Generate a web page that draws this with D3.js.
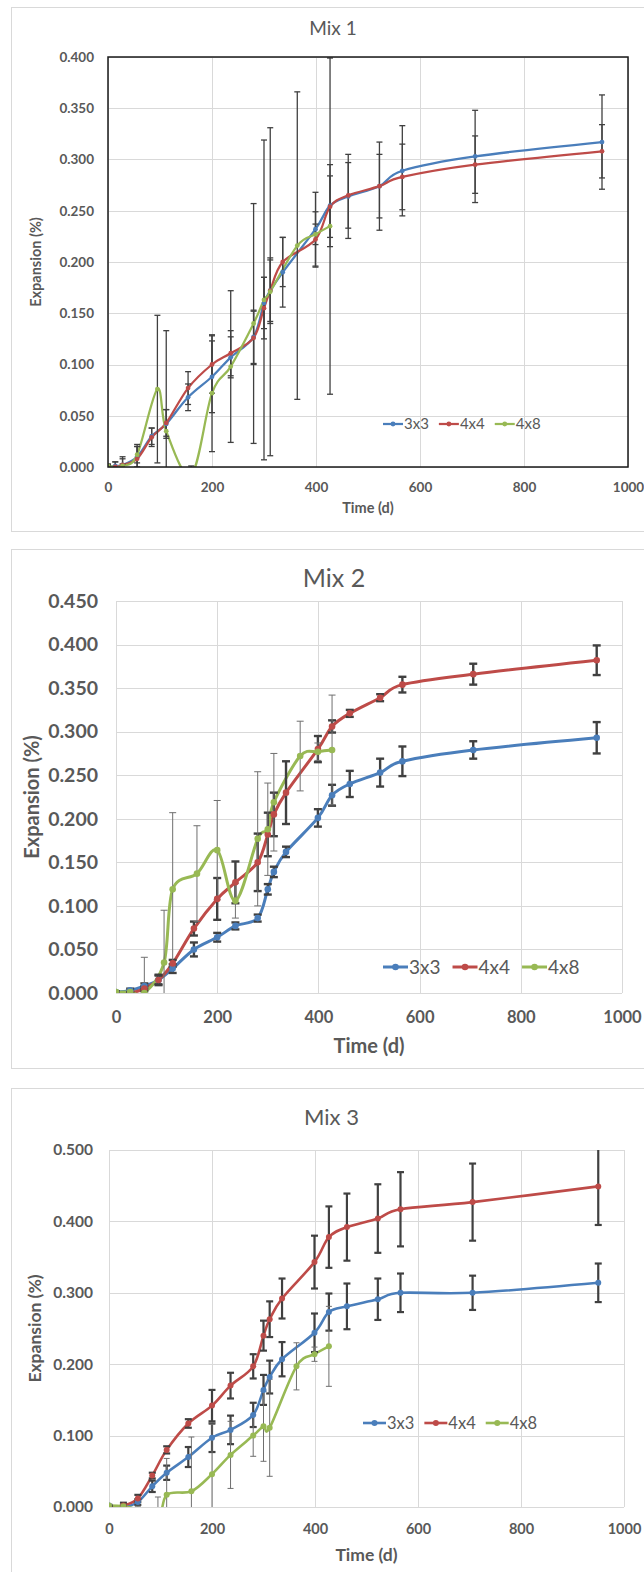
<!DOCTYPE html>
<html>
<head>
<meta charset="utf-8">
<script src="https://cdnjs.cloudflare.com/ajax/libs/d3/7.8.5/d3.min.js"></script>
<style>
  body { margin: 0; background: #fff; }
  svg text { font-family: Lato, "Open Sans", sans-serif; fill: #595959; }
</style>
</head>
<body>
<svg id="chart"></svg>
<script>
// series and axis labels
const seriesNames = ["3x3", "4x4", "4x8"];
const seriesColors = ["#4a7ebb", "#be4b48", "#98b954"];
const xTicks = [0, 200, 400, 600, 800, 1000];

// time points (days)
const mix1Days = [0, 14, 28, 56, 84, 112, 154, 200, 236, 280, 300, 312, 336, 399, 427, 462, 522, 566, 706, 950];
const mixDays = [0, 28, 56, 84, 112, 154, 200, 236, 280, 300, 312, 336, 399, 427, 462, 522, 566, 706, 950];
const days4x8 = [0, 28, 56, 95, 112, 160, 200, 236, 280, 300, 312, 364, 399, 427];

// Mix 1
const mix1Exp3x3 = [0.000, 0.001, 0.002, 0.010, 0.030, 0.042, 0.068, 0.088, 0.107, 0.127, 0.160, 0.172, 0.190, 0.232, 0.255, 0.264, 0.274, 0.289, 0.303, 0.317];
const mix1Err3x3 = [0.002, 0.004, 0.006, 0.010, 0.008, 0.014, 0.013, 0.035, 0.020, 0.026, 0.025, 0.030, 0.034, 0.036, 0.040, 0.041, 0.043, 0.044, 0.045, 0.046];
const mix1Exp4x4 = [0.000, 0.000, 0.002, 0.008, 0.029, 0.043, 0.077, 0.100, 0.111, 0.126, 0.155, 0.172, 0.200, 0.222, 0.254, 0.265, 0.274, 0.283, 0.295, 0.308];
const mix1Err4x4 = [0.002, 0.005, 0.008, 0.014, 0.009, 0.013, 0.016, 0.028, 0.022, 0.026, 0.030, 0.032, 0.024, 0.027, 0.030, 0.032, 0.031, 0.032, 0.028, 0.026];
const mix1Exp4x8 = [0.001, 0.001, 0.012, 0.076, 0.035, -0.008, 0.072, 0.098, 0.140, 0.163, 0.171, 0.216, 0.227, 0.235];
const mix1Err4x8 = [0.002, 0.002, 0.008, 0.072, 0.098, 0.009, 0.057, 0.074, 0.117, 0.156, 0.160, 0.150, 0.010, 0.164];

// Mix 2
const mix2Exp3x3 = [0.001, 0.003, 0.008, 0.015, 0.028, 0.050, 0.064, 0.077, 0.086, 0.119, 0.139, 0.162, 0.201, 0.227, 0.240, 0.253, 0.266, 0.279, 0.293];
const mix2Err3x3 = [0.001, 0.002, 0.003, 0.006, 0.005, 0.008, 0.005, 0.004, 0.004, 0.006, 0.006, 0.006, 0.010, 0.012, 0.015, 0.016, 0.017, 0.010, 0.018];
const mix2Exp4x4 = [0.000, 0.000, 0.005, 0.015, 0.034, 0.074, 0.108, 0.127, 0.150, 0.182, 0.205, 0.230, 0.280, 0.306, 0.321, 0.339, 0.354, 0.366, 0.382];
const mix2Err4x4 = [0.001, 0.001, 0.003, 0.005, 0.004, 0.008, 0.024, 0.024, 0.033, 0.025, 0.025, 0.036, 0.015, 0.007, 0.004, 0.004, 0.009, 0.012, 0.017];
const mix2Exp4x8 = [0.001, 0.001, 0.000, 0.035, 0.119, 0.137, 0.164, 0.106, 0.177, 0.188, 0.219, 0.272, 0.277, 0.279];
const mix2Err4x8 = [0.001, 0.001, 0.041, 0.060, 0.088, 0.055, 0.057, 0.020, 0.077, 0.053, 0.056, 0.040, 0.010, 0.063];

// Mix 3
const mix3Exp3x3 = [0.002, 0.000, 0.007, 0.029, 0.048, 0.070, 0.097, 0.108, 0.129, 0.164, 0.182, 0.207, 0.244, 0.273, 0.281, 0.291, 0.300, 0.300, 0.314];
const mix3Err3x3 = [0.001, 0.002, 0.004, 0.008, 0.010, 0.014, 0.020, 0.020, 0.017, 0.021, 0.023, 0.024, 0.027, 0.026, 0.032, 0.029, 0.027, 0.024, 0.027];
const mix3Exp4x4 = [0.000, 0.002, 0.012, 0.044, 0.080, 0.117, 0.142, 0.170, 0.197, 0.240, 0.263, 0.292, 0.343, 0.378, 0.392, 0.404, 0.417, 0.427, 0.449];
const mix3Err4x4 = [0.001, 0.004, 0.005, 0.004, 0.005, 0.006, 0.022, 0.018, 0.017, 0.021, 0.025, 0.028, 0.037, 0.043, 0.047, 0.048, 0.052, 0.054, 0.054];
const mix3Exp4x8 = [0.002, 0.001, -0.004, -0.020, 0.017, 0.022, 0.046, 0.073, 0.100, 0.113, 0.111, 0.197, 0.214, 0.225];
const mix3Err4x8 = [0.001, 0.002, 0.005, 0.034, 0.051, 0.076, 0.070, 0.047, 0.029, 0.049, 0.068, 0.033, 0.010, 0.056];

const width = 644;
const height = 1572;

const svg = d3.select("#chart")
	.attr("width", width)
	.attr("height", height);

function makeSeries(days, exp, err) {
	return days.map((t, i) => ({ t, v: exp[i], e: err[i] }));
}

const panels = [
	{
		id: "mix1", title: "Mix 1",
		box: [11, 7, 660, 531],
		plot: { left: 108, right: 628, top: 57, bottom: 467 },
		yMax: 0.4, yTicks: d3.range(0, 0.4001, 0.05),
		titleY: 28, titleSize: 19,
		tickSize: 13.5, xTickSize: 13.5, yPad: 14, xLabelY: 487,
		axisTitleSize: 14.5, yTitleX: 36, xTitleY: 508,
		lineW: 2.25, markerR: 2.4,
		legend: { x: 383, y: 424, line: 20, gap: 10, size: 15 },
		frame: true,
		bars: [{ w: 1.3, c: "#404040", cap: 3 }, { w: 1.3, c: "#404040", cap: 3 }, { w: 1.3, c: "#404040", cap: 3 }],
		series: [
			makeSeries(mix1Days, mix1Exp3x3, mix1Err3x3),
			makeSeries(mix1Days, mix1Exp4x4, mix1Err4x4),
			makeSeries(days4x8, mix1Exp4x8, mix1Err4x8)
		]
	},
	{
		id: "mix2", title: "Mix 2",
		box: [11, 549, 660, 1068],
		plot: { left: 116, right: 622, top: 601, bottom: 993 },
		yMax: 0.45, yTicks: d3.range(0, 0.4501, 0.05),
		titleY: 578, titleSize: 25,
		tickSize: 19.5, xTickSize: 16.5, yPad: 18, xLabelY: 1017,
		axisTitleSize: 20, yTitleX: 32, xTitleY: 1046,
		lineW: 3, markerR: 3.3,
		legend: { x: 383, y: 967, line: 25, gap: 12, size: 19 },
		frame: false,
		bars: [{ w: 2.4, c: "#404040", cap: 4 }, { w: 2.4, c: "#404040", cap: 4 }, { w: 1, c: "#6f6f6f", cap: 3.5 }],
		series: [
			makeSeries(mixDays, mix2Exp3x3, mix2Err3x3),
			makeSeries(mixDays, mix2Exp4x4, mix2Err4x4),
			makeSeries(days4x8, mix2Exp4x8, mix2Err4x8)
		]
	},
	{
		id: "mix3", title: "Mix 3",
		box: [11, 1088, 660, 1590],
		plot: { left: 109, right: 624, top: 1150, bottom: 1507 },
		yMax: 0.5, yTicks: d3.range(0, 0.5001, 0.1),
		titleY: 1117, titleSize: 22,
		tickSize: 15.5, xTickSize: 14.5, yPad: 16, xLabelY: 1529,
		axisTitleSize: 17.5, yTitleX: 35, xTitleY: 1555,
		lineW: 2.6, markerR: 3,
		legend: { x: 363, y: 1423, line: 23, gap: 10, size: 16.5 },
		frame: false,
		bars: [{ w: 2.2, c: "#404040", cap: 3.5 }, { w: 2.2, c: "#404040", cap: 3.5 }, { w: 1, c: "#6f6f6f", cap: 3 }],
		series: [
			makeSeries(mixDays, mix3Exp3x3, mix3Err3x3),
			makeSeries(mixDays, mix3Exp4x4, mix3Err4x4),
			makeSeries(days4x8, mix3Exp4x8, mix3Err4x8)
		]
	}
];

function drawPanel(p) {
	const g = svg.append("g").attr("id", p.id);
	const [bx0, by0, bx1, by1] = p.box;

	g.append("rect")
		.attr("x", bx0 + 0.5).attr("y", by0 + 0.5)
		.attr("width", bx1 - bx0).attr("height", by1 - by0)
		.attr("fill", "#fff")
		.attr("stroke", "#d9d9d9");

	const x = d3.scaleLinear().domain([0, 1000]).range([p.plot.left, p.plot.right]);
	const y = d3.scaleLinear().domain([0, p.yMax]).range([p.plot.bottom, p.plot.top]);

	// gridlines
	g.append("g").selectAll("line")
		.data(p.yTicks)
		.join("line")
		.attr("x1", p.plot.left).attr("x2", p.plot.right)
		.attr("y1", (d) => Math.round(y(d)) + 0.5).attr("y2", (d) => Math.round(y(d)) + 0.5)
		.attr("stroke", "#d9d9d9").attr("stroke-width", 1);
	g.append("g").selectAll("line")
		.data(xTicks)
		.join("line")
		.attr("x1", (d) => Math.round(x(d)) + 0.5).attr("x2", (d) => Math.round(x(d)) + 0.5)
		.attr("y1", p.plot.top).attr("y2", p.plot.bottom)
		.attr("stroke", "#d9d9d9").attr("stroke-width", 1);

	// axes (labels only)
	const yAxis = g.append("g")
		.attr("transform", `translate(${p.plot.left},0)`)
		.call(d3.axisLeft(y).tickValues(p.yTicks).tickFormat(d3.format(".3f")).tickSize(0).tickPadding(p.yPad));
	const xAxis = g.append("g")
		.attr("transform", `translate(0,${p.xLabelY})`)
		.call(d3.axisBottom(x).tickValues(xTicks).tickFormat(d3.format("d")).tickSize(0).tickPadding(0));
	[yAxis, xAxis].forEach((a) => {
		a.select(".domain").remove();
		a.selectAll("text")
			.attr("font-family", null)
			.style("font-weight", "bold")
			.style("fill", "#595959");
	});
	yAxis.attr("font-size", null).selectAll("text").style("font-size", p.tickSize + "px");
	xAxis.attr("font-size", null).selectAll("text")
		.style("font-size", p.xTickSize + "px")
		.attr("y", 0).attr("dy", "0.35em");

	// clip to plot area
	const clipId = `clip-${p.id}`;
	g.append("clipPath").attr("id", clipId)
		.append("rect")
		.attr("x", p.plot.left).attr("y", p.plot.top)
		.attr("width", p.plot.right - p.plot.left)
		.attr("height", p.plot.bottom - p.plot.top);
	const inner = g.append("g").attr("clip-path", `url(#${clipId})`);

	const line = d3.line()
		.x((d) => x(d.t))
		.y((d) => y(d.v))
		.curve(d3.curveCardinal.tension(0));

	// lines
	p.series.forEach((s, i) => {
		inner.append("path")
			.datum(s)
			.attr("d", line)
			.attr("fill", "none")
			.attr("stroke", seriesColors[i])
			.attr("stroke-width", p.lineW)
			.attr("stroke-linejoin", "round")
			.attr("stroke-linecap", "round");
	});

	// error bars
	p.series.forEach((s, i) => {
		const st = p.bars[i];
		const eb = inner.append("g")
			.attr("stroke", st.c)
			.attr("stroke-width", st.w);
		const bar = eb.selectAll("g").data(s).join("g");
		bar.append("line")
			.attr("x1", (d) => x(d.t)).attr("x2", (d) => x(d.t))
			.attr("y1", (d) => y(d.v - d.e)).attr("y2", (d) => y(d.v + d.e));
		bar.append("line")
			.attr("x1", (d) => x(d.t) - st.cap).attr("x2", (d) => x(d.t) + st.cap)
			.attr("y1", (d) => y(d.v + d.e)).attr("y2", (d) => y(d.v + d.e));
		bar.append("line")
			.attr("x1", (d) => x(d.t) - st.cap).attr("x2", (d) => x(d.t) + st.cap)
			.attr("y1", (d) => y(d.v - d.e)).attr("y2", (d) => y(d.v - d.e));
	});

	// markers
	p.series.forEach((s, i) => {
		inner.append("g").selectAll("circle")
			.data(s)
			.join("circle")
			.attr("cx", (d) => x(d.t))
			.attr("cy", (d) => y(d.v))
			.attr("r", p.markerR)
			.attr("fill", seriesColors[i]);
	});

	if (p.frame) {
		g.append("rect")
			.attr("x", p.plot.left).attr("y", p.plot.top)
			.attr("width", p.plot.right - p.plot.left)
			.attr("height", p.plot.bottom - p.plot.top)
			.attr("fill", "none")
			.attr("stroke", "#1a1a1a")
			.attr("stroke-width", 1.5);
	}

	// titles
	g.append("text")
		.attr("x", (p.plot.left + p.plot.right) / 2 - 35)
		.attr("y", p.titleY)
		.attr("dy", "0.35em")
		.attr("text-anchor", "middle")
		.style("font-size", p.titleSize + "px")
		.text(p.title);
	g.append("text")
		.attr("x", (p.plot.left + p.plot.right) / 2)
		.attr("y", p.xTitleY)
		.attr("dy", "0.35em")
		.attr("text-anchor", "middle")
		.style("font-size", p.axisTitleSize + "px")
		.style("font-weight", "bold")
		.text("Time (d)");
	g.append("text")
		.attr("transform", `translate(${p.yTitleX},${(p.plot.top + p.plot.bottom) / 2}) rotate(-90)`)
		.attr("dy", "0.35em")
		.attr("text-anchor", "middle")
		.style("font-size", p.axisTitleSize + "px")
		.style("font-weight", "bold")
		.text("Expansion (%)");

	// legend
	const lg = p.legend;
	let cx = lg.x;
	seriesNames.forEach((name, i) => {
		g.append("line")
			.attr("x1", cx).attr("x2", cx + lg.line)
			.attr("y1", lg.y).attr("y2", lg.y)
			.attr("stroke", seriesColors[i])
			.attr("stroke-width", p.lineW);
		g.append("circle")
			.attr("cx", cx + lg.line / 2).attr("cy", lg.y)
			.attr("r", p.markerR)
			.attr("fill", seriesColors[i]);
		const t = g.append("text")
			.attr("x", cx + lg.line + 1)
			.attr("y", lg.y)
			.attr("dy", "0.35em")
			.style("font-size", lg.size + "px")
			.text(name);
		cx += lg.line + 1 + t.node().getComputedTextLength() + lg.gap;
	});
}

panels.forEach(drawPanel);
</script>
</body>
</html>
